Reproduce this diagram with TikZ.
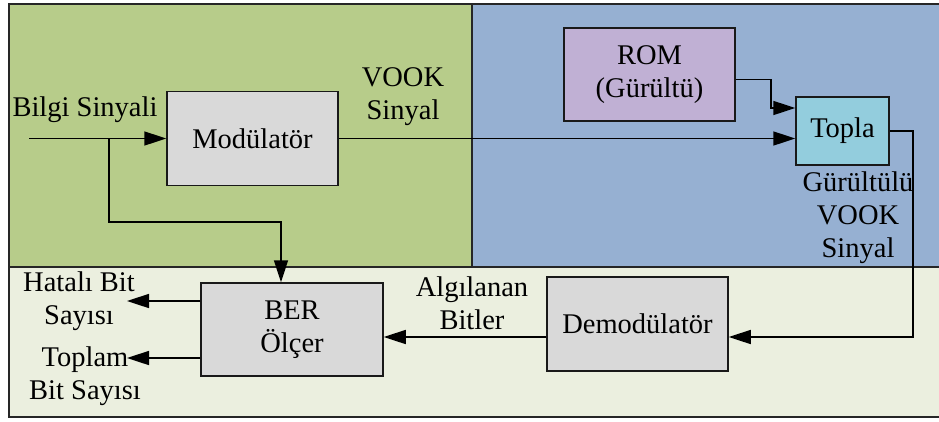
\documentclass[tikz,border=0pt]{standalone}
\usepackage{fontspec}
\setmainfont{Liberation Serif}
\usepackage{xcolor}
\usetikzlibrary{arrows.meta}

\definecolor{yesil}{RGB}{183,204,138}
\definecolor{mavi}{RGB}{150,176,210}
\definecolor{acik}{RGB}{235,239,223}
\definecolor{gri}{RGB}{217,217,217}
\definecolor{mor}{RGB}{192,176,212}
\definecolor{turkuaz}{RGB}{147,205,221}

\tikzset{
  blok/.style={draw=black!90, line width=1.5pt, inner sep=0pt, align=center},
  etiket/.style={draw=none, inner sep=0pt, align=center},
  bolge/.style={draw=black!85, line width=1.8pt},
  ok/.style={-{Triangle[length=22pt,width=14pt]}, line width=1.6pt}
}

\begin{document}
\begin{tikzpicture}[x=1pt, y=-1pt, font=\fontsize{28.5}{33}\selectfont]
             \useasboundingbox (0,0) rectangle (939,421);
             \clip (0,0) rectangle (939,421);

             \draw[bolge, fill=yesil] (9,4) rectangle (472,267);
             \draw[bolge, fill=mavi] (472,4) rectangle (950,267);
             \draw[bolge, fill=acik] (9,267) rectangle (950,417);

             \node[blok, fill=gri, minimum width=171pt, minimum height=94pt] (mod) at (252.5,138.5) {Modülatör};
             \node[blok, fill=mor, minimum width=171pt, minimum height=93pt] (rom) at (649.5,74.5) {ROM\\(Gürültü)};
             \node[blok, fill=turkuaz, minimum width=93pt, minimum height=68pt] (topla) at (842.5,131) {Topla};
             \node[blok, fill=gri, minimum width=181pt, minimum height=94pt] (demod) at (637.5,324) {Demodülatör};
             \node[blok, fill=gri, minimum width=182pt, minimum height=93pt] (ber) at (292,329.5) {BER\\Ölçer};

             \node[etiket] (bilgi) at (85,110) {Bilgi Sinyali};
             \node[etiket] (vook) at (403,97) {VOOK\\Sinyal};
             \node[etiket] (gvook) at (858,218) {Gürültülü\\VOOK\\Sinyal};
             \node[etiket] (algi) at (472,303) {Algılanan\\Bitler};
             \node[etiket] (hatali) at (79,301) {Hatalı Bit\\Sayısı};
             \node[etiket] (toplam) at (85,376) {Toplam\\Bit Sayısı};

             \coordinate (giris) at (29,138.5);
             \coordinate (ayir) at (109,138.5);
             \coordinate (dön) at (281,222);
             \coordinate (kose) at (913,337);
             \coordinate (hataok) at (127,301);
             \coordinate (toplamok) at (127,358);

             \draw[ok] (giris) -- (mod.west);
             \draw[ok] (ayir) |- (dön) -- (dön |- ber.north);
             \draw[ok] (mod.east) -- (mod.east -| topla.west);
             \draw[ok] ([yshift=-5pt]rom.east) -- ++(35,0) |- ([yshift=23pt]topla.west);
             \draw[ok] (topla.east) -| (kose) -- (kose -| demod.east);
             \draw[ok] (kose -| demod.west) -- (kose -| ber.east);
             \draw[ok] (hataok -| ber.west) -- (hataok);
             \draw[ok] (toplamok -| ber.west) -- (toplamok);
\end{tikzpicture}
\end{document}
